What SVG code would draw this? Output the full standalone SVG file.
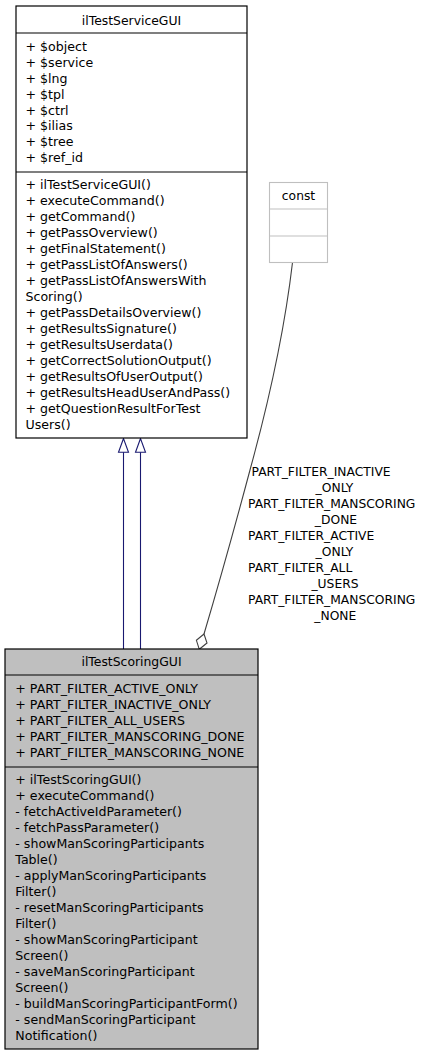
<svg xmlns="http://www.w3.org/2000/svg" width="427" height="1056" viewBox="0 0 427 1056">
<style>
text{font-family:"DejaVu Sans","Liberation Sans",sans-serif;font-size:12.6px;fill:#000}
.c{text-anchor:middle}
.t{font-size:12.4px}
.l{font-size:12.3px}
.box{stroke:#000;stroke-width:1.2}
.inh{stroke:#191970;stroke-width:1.1;fill:none}
.agg{stroke:#404040;stroke-width:1.1;fill:none}
</style>
<rect width="427" height="1056" fill="#fff"/>
<g id="connectors">
  <line class="inh" x1="123.5" y1="649" x2="123.5" y2="452"/>
  <polygon class="inh" style="fill:#fff" points="123.5,438.5 118.5,452.3 128.5,452.3"/>
  <line class="inh" x1="140.5" y1="649" x2="140.5" y2="452"/>
  <polygon class="inh" style="fill:#fff" points="140.5,438.5 135.5,452.3 145.5,452.3"/>
  <path class="agg" d="M292.5,262.5 C286,318 272,390 250,470 C238,515 220,580 204,634"/>
  <polygon class="agg" style="fill:#fff" points="204,634 196.4,640.3 199.3,649.3 207,643"/>
  <text class="l" x="251.5" y="476">PART_FILTER_INACTIVE</text>
  <text class="l c" x="334.5" y="492">_ONLY</text>
  <text class="l" x="248" y="508">PART_FILTER_MANSCORING</text>
  <text class="l c" x="336" y="524">_DONE</text>
  <text class="l" x="248" y="540">PART_FILTER_ACTIVE</text>
  <text class="l c" x="334.5" y="556">_ONLY</text>
  <text class="l" x="248" y="572">PART_FILTER_ALL</text>
  <text class="l c" x="335" y="588">_USERS</text>
  <text class="l" x="248" y="604">PART_FILTER_MANSCORING</text>
  <text class="l c" x="335.3" y="620">_NONE</text>
</g>
<g id="ilTestServiceGUI">
  <rect class="box" x="16" y="6" width="231" height="432" fill="#fff"/>
  <line class="box" x1="16" y1="33" x2="247" y2="33"/>
  <line class="box" x1="16" y1="172" x2="247" y2="172"/>
  <text class="t c" x="131.5" y="24.5">ilTestServiceGUI</text>
  <text x="25.5" y="50.7">+ $object</text>
  <text x="25.5" y="66.6">+ $service</text>
  <text x="25.5" y="82.6">+ $lng</text>
  <text x="25.5" y="98.5">+ $tpl</text>
  <text x="25.5" y="114.5">+ $ctrl</text>
  <text x="25.5" y="130.4">+ $ilias</text>
  <text x="25.5" y="146.4">+ $tree</text>
  <text x="25.5" y="162.3">+ $ref_id</text>
  <text x="25.5" y="189">+ ilTestServiceGUI()</text>
  <text x="25.5" y="205">+ executeCommand()</text>
  <text x="25.5" y="221">+ getCommand()</text>
  <text x="25.5" y="237">+ getPassOverview()</text>
  <text x="25.5" y="253">+ getFinalStatement()</text>
  <text x="25.5" y="269">+ getPassListOfAnswers()</text>
  <text x="25.5" y="285">+ getPassListOfAnswersWith</text>
  <text x="25.5" y="301">Scoring()</text>
  <text x="25.5" y="317">+ getPassDetailsOverview()</text>
  <text x="25.5" y="333">+ getResultsSignature()</text>
  <text x="25.5" y="349">+ getResultsUserdata()</text>
  <text x="25.5" y="365">+ getCorrectSolutionOutput()</text>
  <text x="25.5" y="381">+ getResultsOfUserOutput()</text>
  <text x="25.5" y="397">+ getResultsHeadUserAndPass()</text>
  <text x="25.5" y="413">+ getQuestionResultForTest</text>
  <text x="25.5" y="429">Users()</text>
</g>
<g id="const">
  <rect x="269.5" y="182.5" width="58" height="80" fill="#fff" stroke="#bfbfbf" stroke-width="1.1"/>
  <line x1="269.5" y1="209" x2="327.5" y2="209" stroke="#bfbfbf" stroke-width="1.1"/>
  <line x1="269.5" y1="236" x2="327.5" y2="236" stroke="#bfbfbf" stroke-width="1.1"/>
  <text class="l c" x="298.5" y="199.5">const</text>
</g>
<g id="ilTestScoringGUI">
  <rect class="box" x="5" y="649" width="253" height="400" fill="#bfbfbf"/>
  <line class="box" x1="5" y1="675" x2="258" y2="675"/>
  <line class="box" x1="5" y1="767" x2="258" y2="767"/>
  <text class="t c" x="131.5" y="666">ilTestScoringGUI</text>
  <text x="15.3" y="693.3">+ PART_FILTER_ACTIVE_ONLY</text>
  <text x="15.3" y="709.2">+ PART_FILTER_INACTIVE_ONLY</text>
  <text x="15.3" y="725.1">+ PART_FILTER_ALL_USERS</text>
  <text x="15.3" y="741">+ PART_FILTER_MANSCORING_DONE</text>
  <text x="15.3" y="756.9">+ PART_FILTER_MANSCORING_NONE</text>
  <text x="15.3" y="784">+ ilTestScoringGUI()</text>
  <text x="15.3" y="800">+ executeCommand()</text>
  <text x="15.3" y="816">- fetchActiveIdParameter()</text>
  <text x="15.3" y="832">- fetchPassParameter()</text>
  <text x="15.3" y="848">- showManScoringParticipants</text>
  <text x="15.3" y="864">Table()</text>
  <text x="15.3" y="880">- applyManScoringParticipants</text>
  <text x="15.3" y="896">Filter()</text>
  <text x="15.3" y="912">- resetManScoringParticipants</text>
  <text x="15.3" y="928">Filter()</text>
  <text x="15.3" y="944">- showManScoringParticipant</text>
  <text x="15.3" y="960">Screen()</text>
  <text x="15.3" y="976">- saveManScoringParticipant</text>
  <text x="15.3" y="992">Screen()</text>
  <text x="15.3" y="1008">- buildManScoringParticipantForm()</text>
  <text x="15.3" y="1024">- sendManScoringParticipant</text>
  <text x="15.3" y="1040">Notification()</text>
</g>
</svg>
